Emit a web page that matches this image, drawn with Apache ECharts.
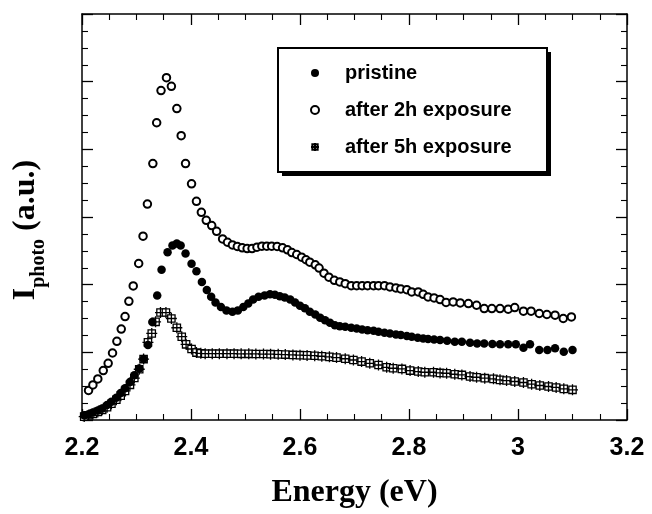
<!DOCTYPE html>
<html>
<head>
<meta charset="utf-8">
<script src="https://cdn.jsdelivr.net/npm/echarts@6/dist/echarts.min.js"></script>
<style>
  html, body { margin: 0; padding: 0; background: #fff; }
  #chart { width: 652px; height: 514px; }
</style>
</head>
<body>
<div id="chart"></div>
<script>
// Photocurrent spectra: energy (eV) vs. photocurrent (arbitrary units)
const xTicks = [2.2, 2.4, 2.6, 2.8, 3, 3.2];

const pristineE = [2.204,2.212,2.220,2.229,2.237,2.246,2.254,2.263,2.271,2.279,2.288,2.296,2.305,
  2.313,2.321,2.329,2.338,2.346,2.357,2.366,2.374,2.381,2.390,2.401,2.410,2.420,2.429,2.437,
  2.445,2.455,2.465,2.476,2.486,2.496,2.505,2.514,2.524,2.535,2.545,2.554,2.563,2.572,2.582,
  2.591,2.600,2.609,2.618,2.628,2.637,2.646,2.655,2.664,2.673,2.683,2.694,2.704,2.714,2.724,
  2.735,2.744,2.755,2.765,2.776,2.785,2.796,2.805,2.816,2.826,2.835,2.846,2.857,2.870,2.884,
  2.897,2.912,2.925,2.938,2.953,2.967,2.982,2.996,3.010,3.022,3.039,3.054,3.068,3.084,3.100];
const pristineI = [0.07,0.085,0.11,0.14,0.17,0.22,0.27,0.33,0.40,0.47,0.56,0.66,0.76,
  0.90,1.11,1.45,1.84,2.22,2.48,2.58,2.61,2.58,2.46,2.31,2.20,2.04,1.92,1.82,
  1.735,1.67,1.62,1.60,1.62,1.67,1.72,1.78,1.82,1.84,1.86,1.85,1.83,1.81,1.78,
  1.735,1.69,1.65,1.60,1.56,1.51,1.475,1.436,1.402,1.387,1.377,1.363,1.353,1.338,1.328,
  1.319,1.304,1.289,1.279,1.265,1.255,1.240,1.230,1.216,1.206,1.196,1.191,1.181,1.172,1.157,
  1.157,1.142,1.132,1.132,1.122,1.118,1.118,1.118,1.069,1.118,1.034,1.034,1.059,1.010,1.034];

const exp2hE = [2.212,2.220,2.229,2.239,2.248,2.256,2.264,2.272,2.279,2.286,
  2.294,2.304,2.312,2.320,2.330,2.337,2.345,2.355,2.364,2.374,
  2.382,2.390,2.401,2.410,2.419,2.428,2.438,2.447,2.458,2.467,
  2.476,2.485,2.494,2.503,2.512,2.521,2.530,2.539,2.548,2.558,
  2.568,2.577,2.585,2.594,2.603,2.611,2.618,2.628,2.635,2.644,
  2.653,2.663,2.673,2.683,2.694,2.704,2.714,2.724,2.735,2.744,
  2.755,2.765,2.776,2.785,2.796,2.805,2.817,2.826,2.835,2.846,
  2.857,2.868,2.881,2.894,2.909,2.924,2.938,2.952,2.967,2.982,
  2.994,3.010,3.024,3.039,3.053,3.068,3.083,3.098];
const exp2hI = [0.437,0.519,0.607,0.731,0.838,0.990,1.162,1.343,1.529,1.754,
  1.981,2.313,2.716,3.191,3.790,4.393,4.868,5.059,4.931,4.603,
  4.201,3.790,3.490,3.231,3.069,2.951,2.873,2.789,2.676,2.627,
  2.588,2.564,2.544,2.534,2.534,2.554,2.569,2.569,2.569,2.564,
  2.544,2.515,2.475,2.446,2.407,2.368,2.333,2.294,2.245,2.170,
  2.110,2.065,2.040,2.015,1.985,1.985,1.985,1.985,1.985,1.985,
  1.985,1.966,1.951,1.936,1.926,1.892,1.892,1.858,1.819,1.804,
  1.779,1.737,1.745,1.730,1.721,1.696,1.647,1.647,1.647,1.637,
  1.662,1.608,1.608,1.574,1.559,1.549,1.500,1.524];

const exp5hE = [2.204,2.212,2.220,2.229,2.237,2.246,2.254,2.263,2.271,2.279,
  2.288,2.296,2.305,2.313,2.321,2.328,2.335,2.344,2.354,2.364,
  2.374,2.383,2.391,2.401,2.410,2.418,2.426,2.439,2.452,2.466,
  2.479,2.492,2.506,2.519,2.533,2.546,2.560,2.573,2.587,2.600,
  2.613,2.627,2.640,2.654,2.667,2.683,2.698,2.713,2.728,2.744,
  2.759,2.771,2.787,2.802,2.817,2.829,2.845,2.857,2.869,2.884,
  2.897,2.912,2.924,2.939,2.955,2.967,2.979,2.994,3.010,3.025,
  3.040,3.056,3.070,3.084,3.100];
const exp5hI = [0.05,0.07,0.09,0.12,0.15,0.19,0.24,0.30,0.36,0.43,
  0.52,0.62,0.75,0.90,1.147,1.279,1.451,1.588,1.588,1.50,
  1.363,1.231,1.118,1.049,0.996,0.985,0.980,0.980,0.980,0.980,
  0.980,0.978,0.978,0.976,0.975,0.973,0.970,0.967,0.962,0.958,
  0.955,0.950,0.942,0.933,0.922,0.905,0.887,0.863,0.838,0.813,
  0.779,0.765,0.755,0.730,0.716,0.706,0.706,0.696,0.691,0.676,
  0.666,0.642,0.632,0.618,0.608,0.593,0.583,0.569,0.554,0.529,
  0.510,0.495,0.481,0.460,0.446];

const seriesNames = ['pristine', 'after 2h exposure', 'after 5h exposure'];

const pairs = (xs, ys) => xs.map((x, i) => [x, ys[i]]);

const SANS = '"Liberation Sans", Arial, sans-serif';
const SERIF = '"Liberation Serif", "Times New Roman", serif';

const chart = echarts.init(document.getElementById('chart'), null, { renderer: 'canvas' });

const tickCommon = {
  axisLine: { show: true, onZero: false, lineStyle: { color: '#000', width: 1.5 } },
  axisTick: { show: true, inside: true, length: 11, lineStyle: { color: '#000', width: 1.3 } },
  minorTick: { show: true, splitNumber: 4, length: 6, lineStyle: { color: '#000', width: 1.1 } },
  splitLine: { show: false },
  minorSplitLine: { show: false }
};

chart.setOption({
  animation: false,
  backgroundColor: '#fff',
  grid: { left: 82, right: 25, top: 14, bottom: 92 },
  xAxis: [
    Object.assign({
      type: 'value', position: 'bottom', min: xTicks[0], max: xTicks[xTicks.length - 1], interval: 0.2,
      name: 'Energy (eV)', nameLocation: 'middle', nameGap: 57,
      nameTextStyle: { fontFamily: SERIF, fontWeight: 'bold', fontSize: 32, color: '#000' },
      axisLabel: {
        margin: 16, color: '#000', fontFamily: SANS, fontWeight: 'bold', fontSize: 25,
        formatter: v => String(+v.toFixed(1))
      }
    }, tickCommon),
    Object.assign({
      type: 'value', position: 'top', min: xTicks[0], max: xTicks[xTicks.length - 1], interval: 0.2,
      axisLabel: { show: false }
    }, tickCommon)
  ],
  yAxis: [
    Object.assign({
      type: 'value', position: 'left', min: 0, max: 6, interval: 1,
      axisLabel: { show: false },
      name: '{big|I}{sub|photo}{big| (a.u.)}', nameLocation: 'middle', nameGap: 40, nameRotate: 90,
      nameTextStyle: {
        color: '#000',
        padding: [0, 26, 0, 0],
        rich: {
          big: { fontFamily: SERIF, fontWeight: 'bold', fontSize: 32, color: '#000', lineHeight: 38, verticalAlign: 'bottom' },
          sub: { fontFamily: SERIF, fontWeight: 'bold', fontSize: 20, color: '#000', lineHeight: 38, verticalAlign: 'bottom', padding: [0, 0, -7, 0] }
        }
      }
    }, tickCommon),
    Object.assign({
      type: 'value', position: 'right', min: 0, max: 6, interval: 1,
      axisLabel: { show: false }
    }, tickCommon)
  ],
  legend: {
    data: seriesNames,
    orient: 'vertical',
    left: 310,
    top: 62,
    itemWidth: 50,
    itemHeight: 8,
    itemGap: 15,
    padding: 0,
    z: 10,
    textStyle: { fontFamily: SANS, fontWeight: 'bold', fontSize: 20, color: '#000', lineHeight: 22 }
  },
  graphic: [
    { type: 'rect', z: 8, silent: true, shape: { x: 282, y: 52, width: 269, height: 124 }, style: { fill: '#000' } },
    { type: 'rect', z: 9, silent: true, shape: { x: 278, y: 48, width: 269, height: 124 },
      style: { fill: '#fff', stroke: '#000', lineWidth: 2 } }
  ],
  series: [
    {
      name: seriesNames[0], type: 'scatter', symbol: 'circle', symbolSize: 8.5, z: 4,
      itemStyle: { color: '#000', borderColor: '#000', borderWidth: 0, opacity: 1 },
      data: pairs(pristineE, pristineI)
    },
    {
      name: seriesNames[1], type: 'scatter', symbol: 'circle', symbolSize: 7.5, z: 3,
      itemStyle: { color: '#fff', borderColor: '#000', borderWidth: 2, opacity: 1 },
      data: pairs(exp2hE, exp2hI)
    },
    {
      name: seriesNames[2], type: 'scatter', z: 2,
      symbol: 'path://M2,2L10,2L10,10L2,10Z M6,0L6,12 M0,6L12,6', symbolSize: 11,
      itemStyle: { color: '#fff', borderColor: '#000', borderWidth: 1.3, opacity: 1 },
      data: pairs(exp5hE, exp5hI)
    }
  ]
});
</script>
</body>
</html>
